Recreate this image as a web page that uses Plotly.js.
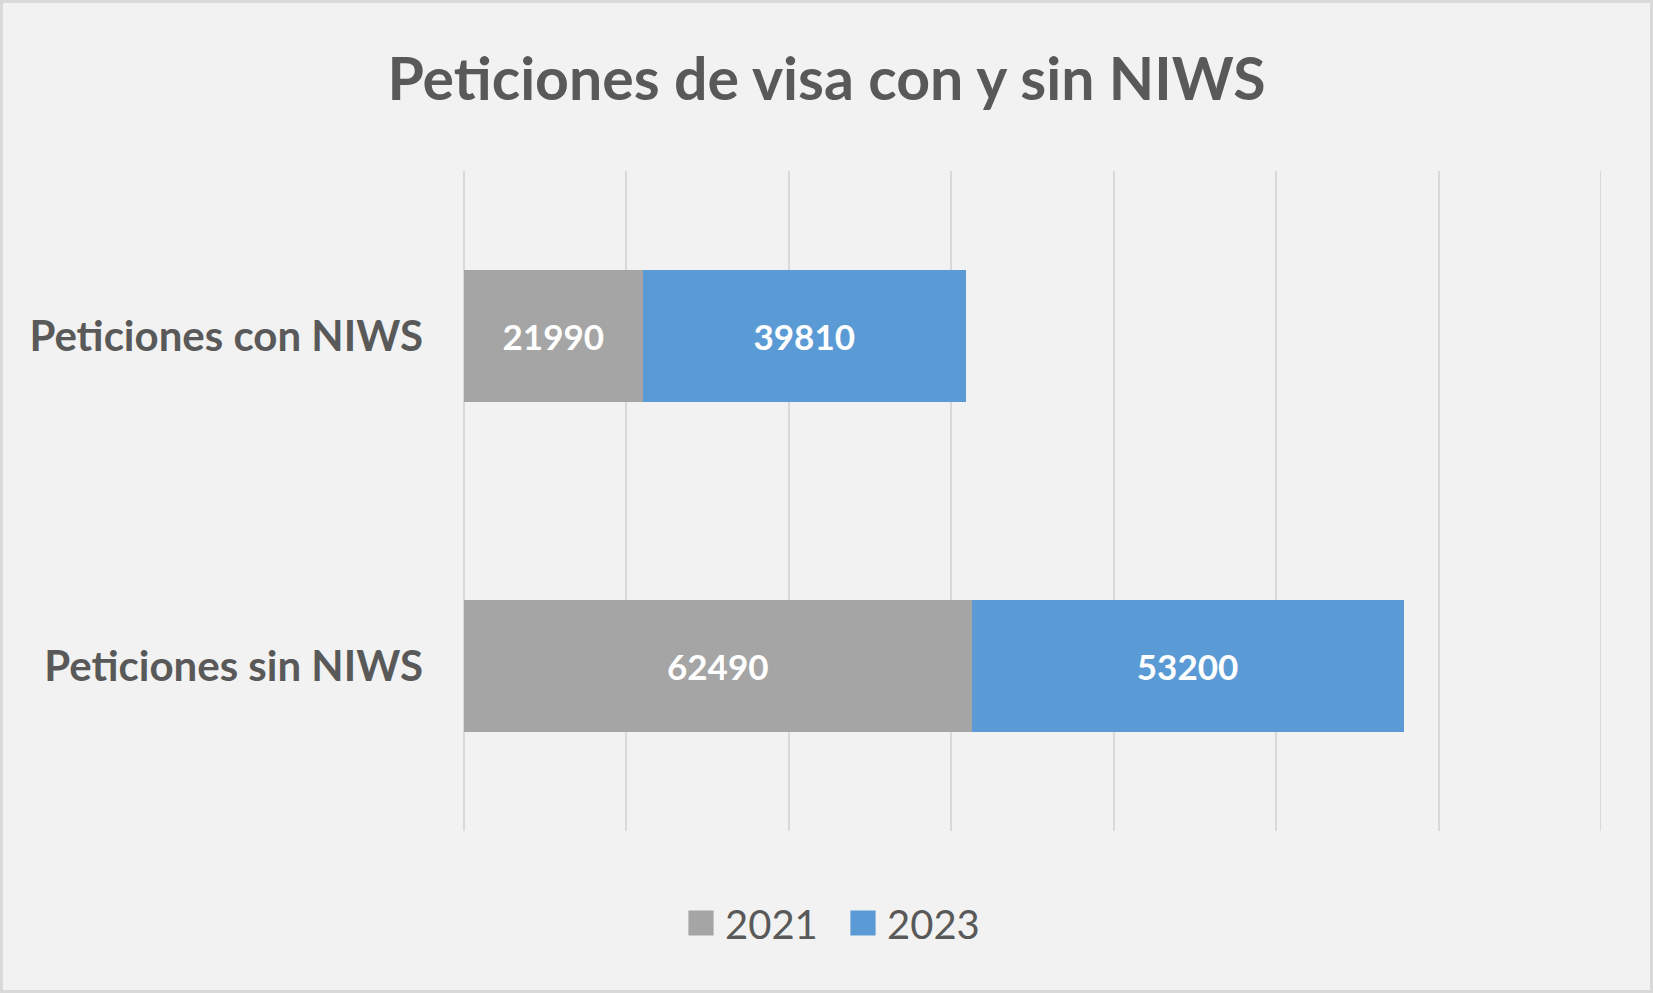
<!DOCTYPE html>
<html>
<head>
<meta charset="utf-8">
<script src="https://cdn.plot.ly/plotly-3.0.1.min.js"></script>
<style>
  html, body { margin: 0; padding: 0; background: #f2f2f2; }
  #wrap { position: relative; width: 1653px; height: 993px; }
  #chart { width: 1653px; height: 993px; }
  #frame { position: absolute; left: 0; top: 0; width: 1653px; height: 993px; box-sizing: border-box; border: 3px solid #d9d9d9; pointer-events: none; }
</style>
</head>
<body>
<div id="wrap"><div id="chart"></div><div id="frame"></div></div>
<script>
const categories = ['Peticiones con NIWS', 'Peticiones sin NIWS'];
const seriesNames = ['2021', '2023'];
const values2021 = [21990, 62490];
const values2023 = [39810, 53200];
const colors = ['#a5a5a5', '#5b9bd5'];
const axisMax = 140000;
const axisStep = 20000;

const labelFont = { family: 'Lato', size: 35, color: '#ffffff', weight: 'bold' };

const traces = [values2021, values2023].map((vals, i) => ({
  type: 'bar',
  orientation: 'h',
  name: seriesNames[i],
  y: categories,
  x: vals,
  text: vals.map(String),
  textposition: 'inside',
  insidetextanchor: 'middle',
  constraintext: 'none',
  textangle: 0,
  textfont: labelFont,
  marker: { color: colors[i] },
  hoverinfo: 'none'
}));

const layout = {
  width: 1653,
  height: 993,
  paper_bgcolor: '#f2f2f2',
  plot_bgcolor: '#f2f2f2',
  barmode: 'stack',
  bargap: 0.6,
  margin: { l: 464, r: 52, t: 171, b: 162, autoexpand: false },
  title: {
    text: 'Peticiones de visa con y sin NIWS',
    font: { family: 'Lato', size: 59, color: '#595959', weight: 'bold' },
    x: 0.5, xref: 'container', xanchor: 'center',
    y: 1 - 79 / 993, yref: 'container', yanchor: 'middle'
  },
  xaxis: {
    range: [0, axisMax],
    dtick: axisStep,
    tick0: 0,
    showticklabels: false,
    ticks: '',
    showgrid: true,
    gridcolor: '#d9d9d9',
    gridwidth: 2,
    zeroline: true,
    zerolinecolor: '#d9d9d9',
    zerolinewidth: 2,
    showline: false,
    automargin: false,
    fixedrange: true
  },
  yaxis: {
    type: 'category',
    autorange: 'reversed',
    showgrid: false,
    zeroline: false,
    showline: false,
    ticks: '',
    ticklabelstandoff: 40,
    automargin: false,
    tickfont: { family: 'Lato', size: 42, color: '#595959', weight: 'bold' },
    fixedrange: true
  },
  shapes: [{
    type: 'line', xref: 'x', yref: 'paper',
    x0: axisMax, x1: axisMax, y0: 0, y1: 1,
    line: { color: '#d9d9d9', width: 2 },
    layer: 'below'
  }],
  showlegend: true,
  legend: {
    orientation: 'h',
    traceorder: 'normal',
    x: (685 - 464) / 1137, xanchor: 'left', xref: 'paper',
    y: (831 - 923) / 660, yanchor: 'middle', yref: 'paper',
    font: { family: 'Lato', size: 40, color: '#595959' },
    entrywidth: 117,
    bgcolor: 'rgba(0,0,0,0)',
    itemclick: false,
    itemdoubleclick: false
  }
};

Plotly.newPlot('chart', traces, layout, { displayModeBar: false, staticPlot: true }).then(gd => {
  gd.querySelectorAll('.legendpoints path').forEach(p => {
    p.setAttribute('transform', 'translate(16,0) scale(2.1)');
  });
});
</script>
</body>
</html>
